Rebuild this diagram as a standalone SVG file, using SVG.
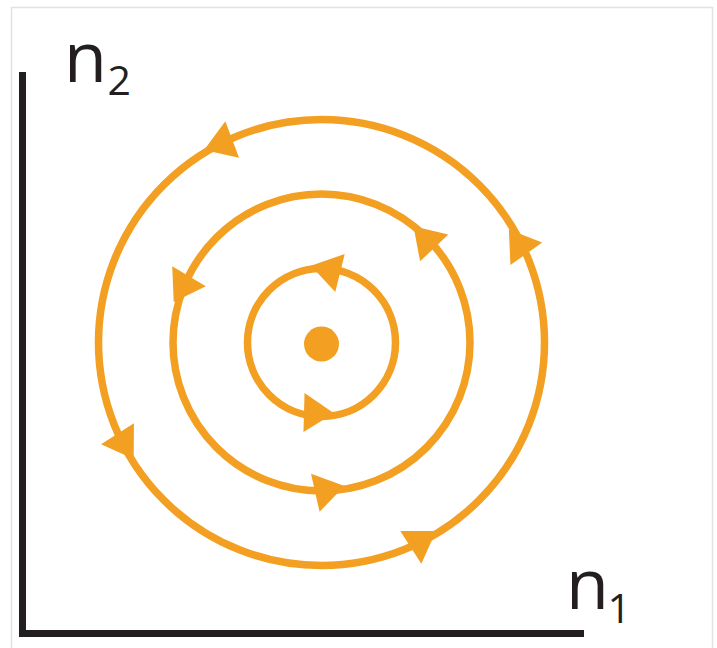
<svg xmlns="http://www.w3.org/2000/svg" xmlns:xlink="http://www.w3.org/1999/xlink" width="717" height="648" viewBox="0 0 717 648">
<style>
.orbit{fill:none;stroke:#F29F22;stroke-width:7.5}
.head{fill:#F29F22}
.axis{fill:none;stroke:#231F20;stroke-width:7;stroke-linejoin:miter}
.lbl{font-family:"Open Sans","Liberation Sans",sans-serif;fill:#231F20}
.big{font-size:70px}
.sub{font-size:41px}
</style>
<defs>
<path id="ah" d="M0,-19.5 L0,19.5 L30,0 Z"/>
</defs>
<rect x="11.5" y="7.5" width="701" height="650" fill="none" stroke="#E2E2E2" stroke-width="1.5"/>
<g id="axes">
<path class="axis" d="M22.5,72 V633.5 H584"/>
</g>
<g id="label-n2" class="lbl">
<text class="big" x="64" y="82">n</text>
<text class="sub" x="107.5" y="95">2</text>
</g>
<g id="label-n1" class="lbl">
<text class="big" x="566" y="609">n</text>
<text class="sub" x="607.5" y="623">1</text>
</g>
<g id="orbit-outer">
<circle class="orbit" cx="321.5" cy="342.5" r="223"/>
</g>
<g id="orbit-middle">
<circle class="orbit" cx="321.5" cy="342.5" r="148.5"/>
</g>
<g id="orbit-inner">
<circle class="orbit" cx="321.5" cy="342.5" r="74"/>
</g>
<g id="fixed-point">
<circle cx="321.5" cy="344" r="17.5" fill="#F29F22"/>
</g>
<g id="connectors">
<use xlink:href="#ah" class="head" transform="translate(232.2,139.5) rotate(159.5)"/>
<use xlink:href="#ah" class="head" transform="translate(117.5,433.7) rotate(57.4)"/>
<use xlink:href="#ah" class="head" transform="translate(410.8,547.3) rotate(-32.7)"/>
<use xlink:href="#ah" class="head" transform="translate(526.3,253.8) rotate(-125.5)"/>
<use xlink:href="#ah" class="head" transform="translate(434.2,247.9) rotate(-133.7)"/>
<use xlink:href="#ah" class="head" transform="translate(189,276.3) rotate(120.6)"/>
<use xlink:href="#ah" class="head" transform="translate(315.3,492.7) rotate(-12.7)"/>
<use xlink:href="#ah" class="head" transform="translate(340,273) rotate(-166)"/>
<use xlink:href="#ah" class="head" transform="translate(304,412.5) rotate(1.6)"/>
</g>
</svg>
